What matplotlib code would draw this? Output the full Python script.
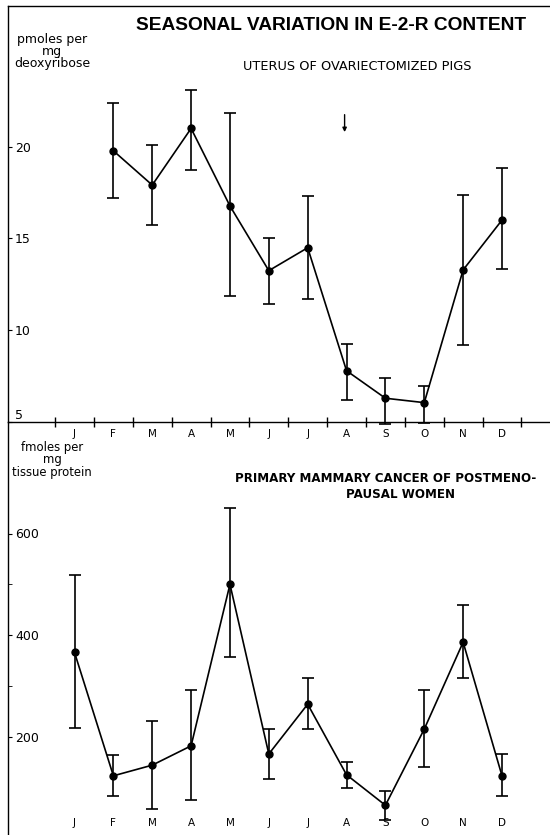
import numpy as np
import matplotlib
matplotlib.use("Agg")
import matplotlib.pyplot as plt
from matplotlib.ticker import FixedLocator

months = ["J", "F", "M", "A", "M", "J", "J", "A", "S", "O", "N", "D"]

# Uterus of ovariectomized pigs (pmoles per mg deoxyribose); January not measured
uterus_mean = [np.nan, 19.78, 17.91, 21.0, 16.77, 13.24, 14.49, 7.78, 6.28, 6.04, 13.28, 16.0]
uterus_upper = [np.nan, 22.37, 20.1, 23.1, 21.82, 15.0, 17.31, 9.24, 7.37, 6.96, 17.37, 18.86]
uterus_lower = [np.nan, 17.22, 15.71, 18.73, 11.86, 11.4, 11.69, 6.18, 4.87, 4.93, 9.18, 13.31]

# Primary mammary cancer of postmenopausal women (fmoles per mg tissue protein)
cancer_mean = [366, 123, 144, 182, 500, 166, 264, 125, 65, 215, 386, 123]
cancer_upper = [518, 164, 230, 291, 650, 215, 315, 150, 93, 292, 460, 165]
cancer_lower = [217, 84, 57, 75, 356, 116, 215, 100, 37, 140, 315, 83]

uterus_yticks = [5, 10, 15, 20]
cancer_yticks = [200, 400, 600]
cancer_minor = [300, 500]

W, H = 550, 835
fig = plt.figure(figsize=(W / 100, H / 100), dpi=100)
plt.rcParams['font.family'] = ['DejaVu Sans']

left = 8 / W
xl = (-(74.5 - 8) / 38.86, 11 + (550 - 502) / 38.86)
axis_y = 421.7

ax2 = fig.add_axes([left, 0, 1 - left, 1 - axis_y / H])
ax1 = fig.add_axes([left, 1 - axis_y / H, 1 - left, (axis_y - 6) / H])
ax1.set_zorder(3)
ax1.patch.set_visible(False)

x = np.arange(12)

def draw(ax, mean, lo, hi):
    mean = np.array(mean, float)
    lo = np.array(lo, float)
    hi = np.array(hi, float)
    ok = ~np.isnan(mean)
    ax.errorbar(x[ok], mean[ok], yerr=[mean[ok] - lo[ok], hi[ok] - mean[ok]],
                fmt='o-', color='black', ms=5, lw=1.2, elinewidth=1.2,
                capsize=4, capthick=1.2, clip_on=False)

draw(ax1, uterus_mean, uterus_lower, uterus_upper)
draw(ax2, cancer_mean, cancer_lower, cancer_upper)

# Top panel axes
ax1.set_xlim(*xl)
ax1.set_ylim(5, 5 + (axis_y - 6) / 18.33)
ax1.spines['right'].set_visible(False)
for s in ['left', 'bottom', 'top']:
    ax1.spines[s].set_linewidth(1.0)
ax1.set_xticks(x)
ax1.set_xticklabels(months, fontsize=7.5)
ax1.tick_params(axis='x', which='major', length=0, pad=5)
ax1.xaxis.set_minor_locator(FixedLocator(np.arange(-0.5, 12, 1)))
ax1.tick_params(axis='x', which='minor', direction='inout', length=7, width=1.0)
ax1.set_yticks(uterus_yticks)
ax1.set_yticklabels([str(t) for t in uterus_yticks], fontsize=9)
ax1.tick_params(axis='y', direction='in', length=3, pad=-5)
for lab in ax1.get_yticklabels():
    lab.set_horizontalalignment('left')
    if lab.get_text() == '5':
        lab.set_verticalalignment('bottom')
ax1.annotate('', xy=(7 - 0.05, 20.8), xytext=(7 - 0.05, 21.75),
             arrowprops=dict(arrowstyle='-|>', color='black', lw=1.0,
                             mutation_scale=6, shrinkA=0, shrinkB=0))

# Bottom panel axes
ax2.set_xlim(*xl)
ax2.set_ylim(200 - (835 - 736.7) / 0.508, 200 + (736.7 - axis_y) / 0.508)
for s in ['right', 'top', 'bottom']:
    ax2.spines[s].set_visible(False)
ax2.spines['left'].set_linewidth(1.0)
ax2.set_xticks(x)
ax2.set_xticklabels(months, fontsize=7.5)
ax2.tick_params(axis='x', length=0, pad=-12)
ax2.set_yticks(cancer_yticks)
ax2.set_yticklabels([str(t) for t in cancer_yticks], fontsize=9)
ax2.yaxis.set_minor_locator(FixedLocator(cancer_minor))
ax2.tick_params(axis='y', which='both', direction='in', length=3, pad=-5)
for lab in ax2.get_yticklabels():
    lab.set_horizontalalignment('left')

# Texts
fig.text(331 / W, 1 - 26 / H, "SEASONAL VARIATION IN E-2-R CONTENT",
         ha='center', va='center', fontsize=13.8, fontweight='bold',
         family=['Liberation Sans', 'DejaVu Sans'])
fig.text(52 / W, 1 - 51 / H, "pmoles per\nmg\ndeoxyribose", ha='center',
         va='center', multialignment='center', fontsize=9, linespacing=0.9)
fig.text(357 / W, 1 - 67 / H, "UTERUS OF OVARIECTOMIZED PIGS", ha='center',
         va='center', fontsize=9.3)
fig.text(52 / W, 1 - 460 / H, "fmoles per\nmg\ntissue protein", ha='center',
         va='center', multialignment='center', fontsize=8.4, linespacing=0.95)
fig.text(386 / W, 1 - 478 / H, "PRIMARY MAMMARY CANCER OF POSTMENO-",
         ha='center', va='center', fontsize=8.6, fontweight='bold')
fig.text(400 / W, 1 - 495 / H, "PAUSAL WOMEN", ha='center', va='center',
         fontsize=8.6, fontweight='bold')

fig.savefig("out.png", dpi=100)
